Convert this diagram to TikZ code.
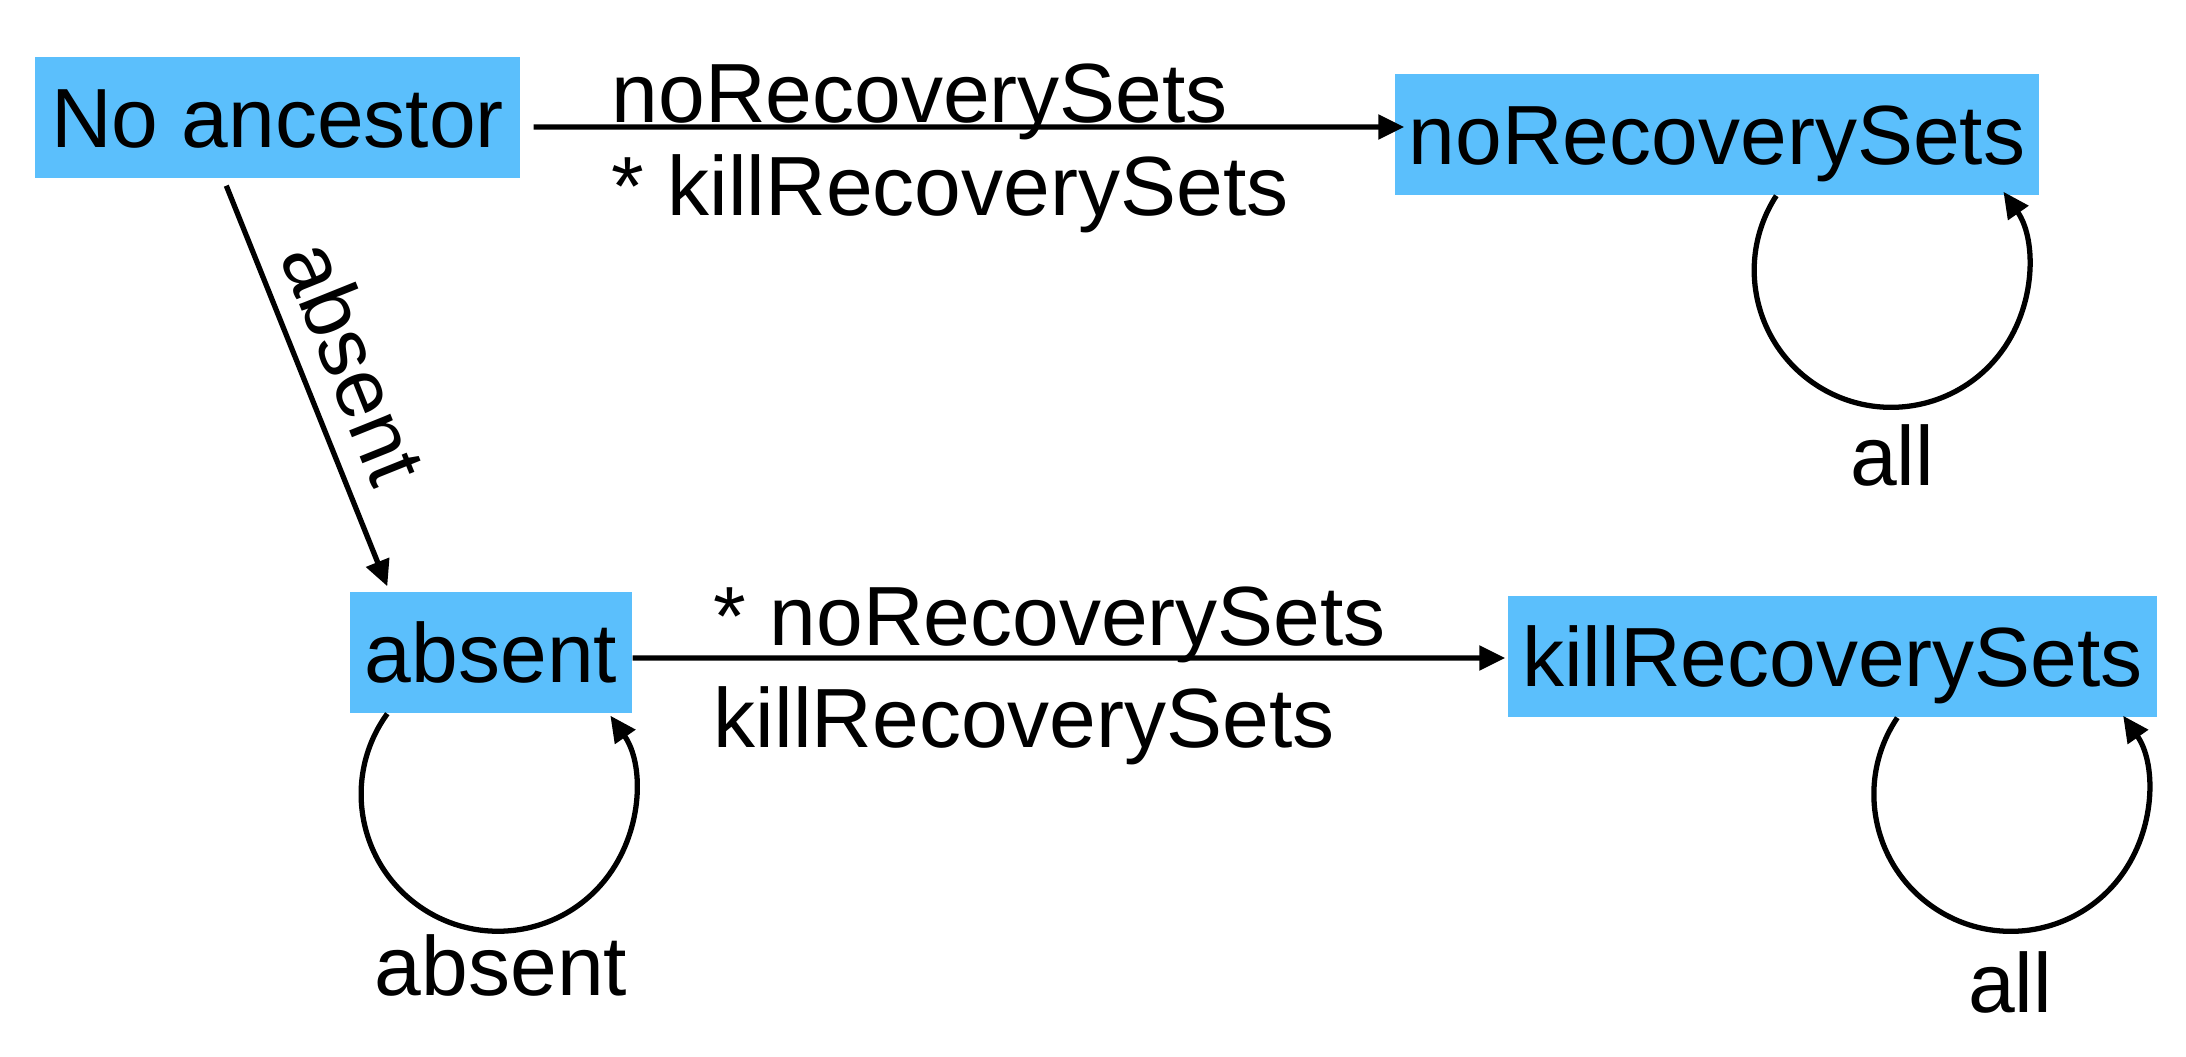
\documentclass[tikz,border=0pt]{standalone}
\usepackage{fontspec}
\setmainfont{Liberation Sans}
\usetikzlibrary{arrows.meta,calc}
\definecolor{boxblue}{HTML}{5BBFFC}
\begin{document}
\begin{tikzpicture}[x=1cm,y=1cm,
  every node/.style={font=\fontsize{23.9pt}{28pt}\selectfont},
  state/.style={fill=boxblue, draw=none, inner xsep=0pt, inner ysep=0.305cm, text height=0.6cm, text depth=0pt, minimum height=1.21cm, align=center},
  lbl/.style={inner sep=0pt},
  arr/.style={-{Triangle[length=0.26cm,width=0.24cm]}, line width=1.5pt}]
\useasboundingbox (0,0) rectangle (21.86,-10.56);
\node[state, minimum width=4.85cm] (A) at (2.775,-1.175) {No ancestor};
\node[state, minimum width=6.44cm] (B) at (17.17,-1.345) {noRecoverySets};
\node[state, minimum width=2.82cm] (C) at (4.91,-6.525) {absent};
\node[state, minimum width=6.49cm] (D) at (18.325,-6.565) {killRecoverySets};
% top transition
\draw[arr] ($(A.east)+(0.13,-0.095)$) -- ($(B.west)+(0.10,0.075)$);
\node[lbl, anchor=base west] (l1) at (6.11,-1.22) {noRecoverySets};
\node[lbl, anchor=base west] (l2) at (6.11,-2.15) {* killRecoverySets};
% bottom transition
\draw[arr] ($(C.east)+(0,-0.055)$) -- ($(D.west)+(-0.02,-0.015)$);
\node[lbl, anchor=base west] (l3) at (7.13,-6.45) {* noRecoverySets};
\node[lbl, anchor=base west] (l4) at (7.13,-7.47) {killRecoverySets};
% diagonal
\draw[arr] ($(A.south west)+(1.92,-0.07)$) -- node[lbl, sloped, above=0.2cm, pos=0.49] (l5) {absent} ($(C.north west)+(0.38,0.05)$);
% self loops
\draw[arr] ($(C.south west)+(0.38,0)$) arc[start angle=144, end angle=395, radius=1.37];
\node[lbl, anchor=base] (l6) at (5.01,-9.95) {absent};
\draw[arr] ($(B.south west)+(3.82,0)$) arc[start angle=147, end angle=395, radius=1.37];
\node[lbl, anchor=base] (l7) at (18.92,-4.85) {all};
\draw[arr] ($(D.south west)+(3.90,0)$) arc[start angle=146, end angle=395, radius=1.37];
\node[lbl, anchor=base] (l8) at (20.10,-10.12) {all};
\end{tikzpicture}
\end{document}
